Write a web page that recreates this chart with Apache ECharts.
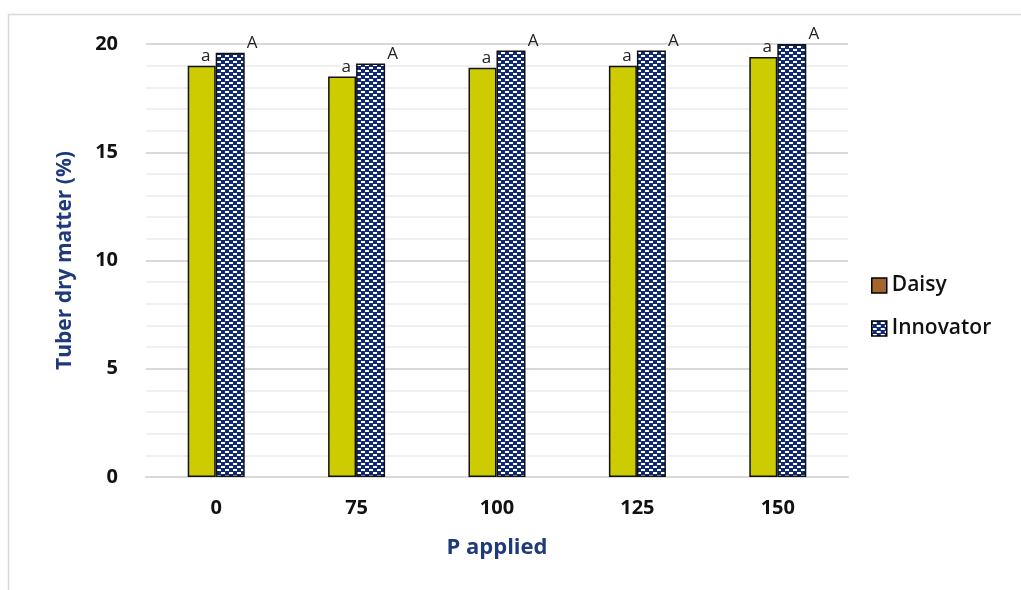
<!DOCTYPE html>
<html><head><meta charset="utf-8">
<script src="https://cdn.jsdelivr.net/npm/echarts@6/dist/echarts.min.js"></script>
<style>html,body{margin:0;padding:0;background:#fff}#c{width:1021px;height:590px}</style>
</head><body><div id="c"></div>
<script>
const categories = ['0', '75', '100', '125', '150'];
const daisy = [19.0, 18.5, 18.9, 19.0, 19.4];
const innovator = [19.6, 19.1, 19.7, 19.7, 20.0];
const daisyLetters = ['a', 'a', 'a', 'a', 'a'];
const innovatorLetters = ['A', 'A', 'A', 'A', 'A'];

function makePattern() {
  const c = document.createElement('canvas');
  c.width = 8; c.height = 6;
  const g = c.getContext('2d');
  g.fillStyle = '#0f2a72'; g.fillRect(0, 0, 8, 6);
  g.fillStyle = '#ffffff';
  g.fillRect(1, 1, 4, 2);
  g.fillRect(5, 4, 3, 2);
  g.fillRect(0, 4, 1, 2);
  return c;
}
const pat = { image: makePattern(), repeat: 'repeat' };
const font = '"Open Sans", "Noto Sans", sans-serif';

const chart = echarts.init(document.getElementById('c'), null, { renderer: 'canvas' });
chart.setOption({
  animation: false,
  backgroundColor: '#fff',
  graphic: [{ type: 'rect', shape: { x: 8.5, y: 14.5, width: 1030, height: 600 }, style: { fill: 'none', stroke: '#d9d9d9', lineWidth: 1.5 }, silent: true }],
  grid: { left: 146, right: 173, top: 44, bottom: 113 },
  legend: {
    orient: 'vertical', left: 866, top: 270, itemGap: 22, itemWidth: 15, itemHeight: 15, icon: 'rect',
    textStyle: { fontFamily: font, fontSize: 21, fontWeight: 600, color: '#111' },
    data: [
      { name: 'Daisy', itemStyle: { color: '#a3652c', borderColor: '#000', borderWidth: 1.5 } },
      { name: 'Innovator', itemStyle: { color: pat, borderColor: '#000', borderWidth: 1.5 } }
    ]
  },
  xAxis: {
    type: 'category', data: categories,
    name: 'P applied', nameLocation: 'middle', nameGap: 60,
    nameTextStyle: { fontFamily: font, fontSize: 22, fontWeight: 'bold', color: '#1f3a7a' },
    axisLine: { lineStyle: { color: '#d9d9d9', width: 2 } },
    axisTick: { show: false },
    axisLabel: { fontFamily: font, fontSize: 20, fontWeight: 'bold', color: '#111', margin: 21 }
  },
  yAxis: {
    type: 'value', min: 0, max: 20, interval: 5,
    name: 'Tuber dry matter (%)', nameLocation: 'middle', nameGap: 70,
    nameTextStyle: { fontFamily: font, fontSize: 21, fontWeight: 'bold', color: '#1f3a7a' },
    axisLine: { show: false }, axisTick: { show: false },
    axisLabel: { fontFamily: font, fontSize: 20, fontWeight: 'bold', color: '#111', margin: 28 },
    splitLine: { lineStyle: { color: '#d9d9d9', width: 2 } },
    minorTick: { show: false, splitNumber: 5 },
    minorSplitLine: { show: true, lineStyle: { color: '#f0f0f0', width: 2 } }
  },
  series: [
    {
      name: 'Daisy', type: 'bar', data: daisy, barWidth: 28, barGap: '0%',
      itemStyle: { color: '#cccc00', borderColor: '#111', borderWidth: 1.5 },
      label: { show: true, position: 'top', distance: 1, offset: [4, 0], formatter: p => daisyLetters[p.dataIndex], fontFamily: font, fontSize: 17, color: '#222' }
    },
    {
      name: 'Innovator', type: 'bar', data: innovator, barWidth: 29,
      itemStyle: { color: pat, borderColor: '#111', borderWidth: 1.5 },
      label: { show: true, position: 'top', distance: 1, offset: [22, 0], formatter: p => innovatorLetters[p.dataIndex], fontFamily: font, fontSize: 17, color: '#222' }
    }
  ]
});
</script></body></html>
